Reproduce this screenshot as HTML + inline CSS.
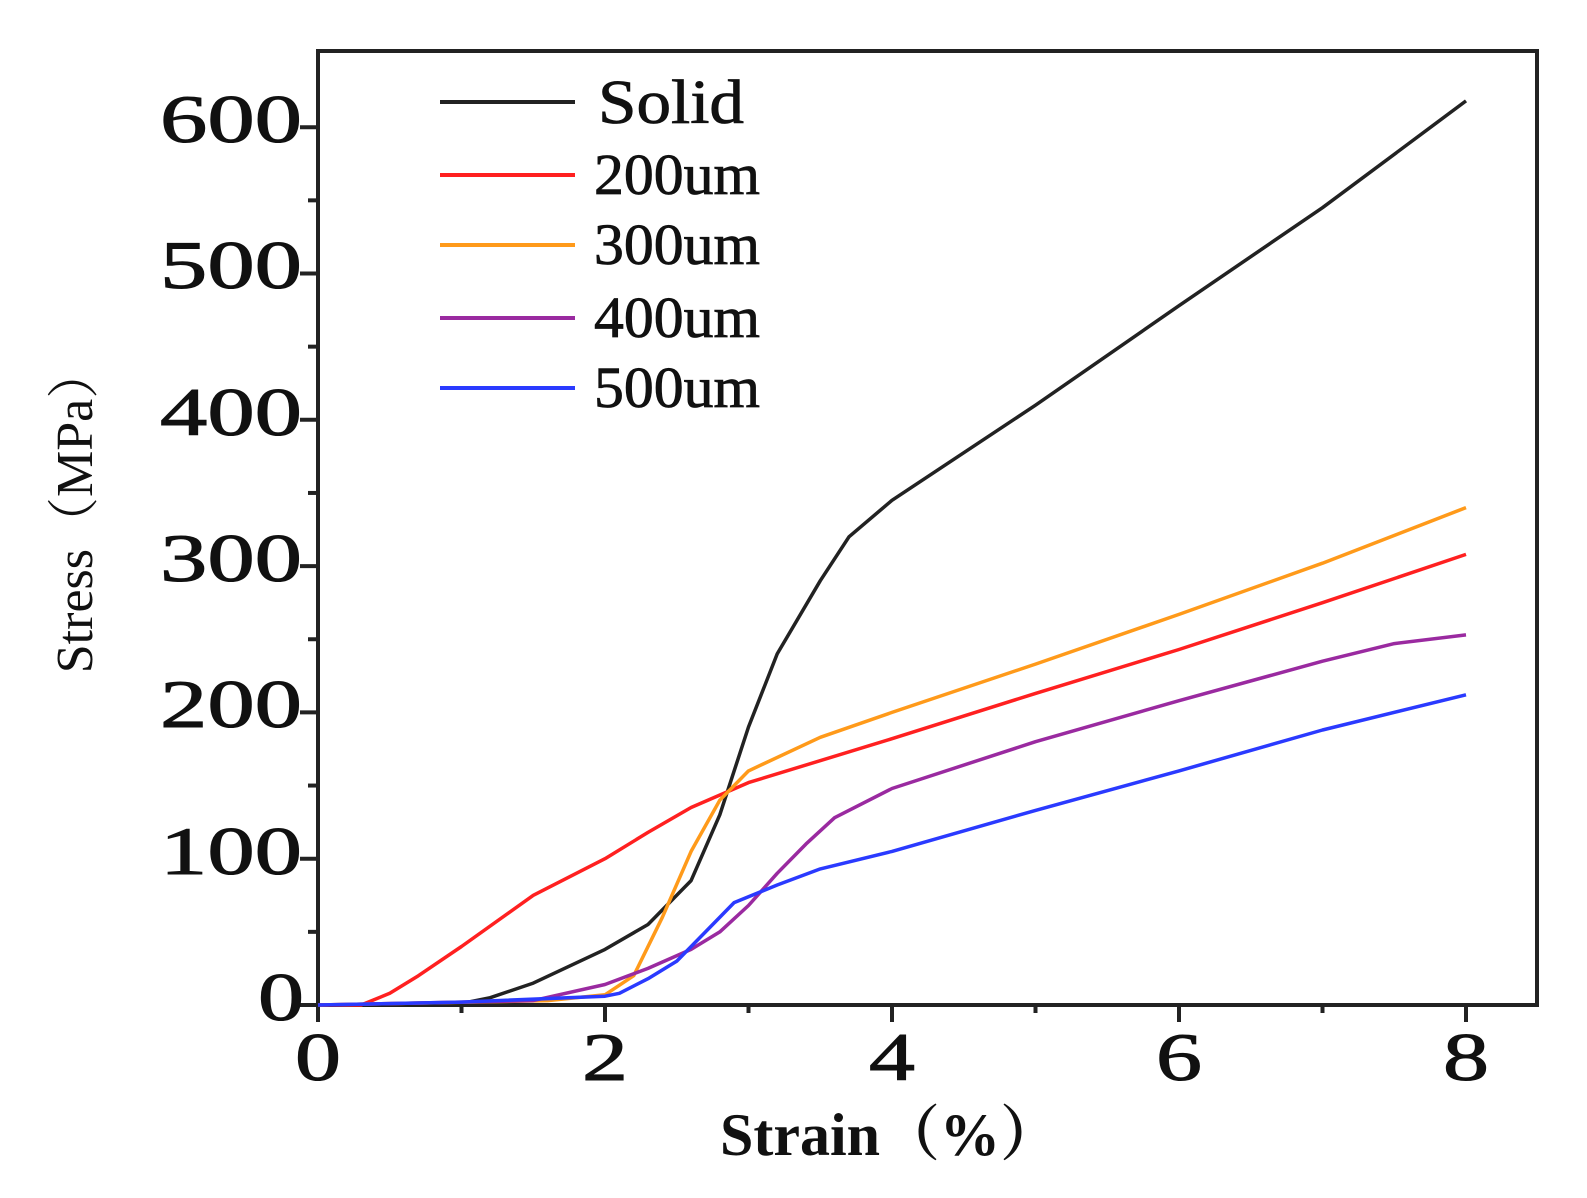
<!DOCTYPE html>
<html><head><meta charset="utf-8"><style>
body{margin:0;background:#fff}
svg{display:block}
text{font-family:"Liberation Serif","Noto Serif CJK SC",serif;fill:#111}
</style></head><body>
<svg id="s" width="1587" height="1198" viewBox="0 0 1587 1198">
<rect x="318" y="51" width="1219" height="954" fill="none" stroke="#222" stroke-width="4"/>
<g id="ticks" stroke="#222" stroke-width="4"></g>
<g font-size="68" stroke="#111" stroke-width="1">
<text x="258" y="1020" textLength="46" lengthAdjust="spacingAndGlyphs">0</text>
<text x="160" y="874" textLength="142" lengthAdjust="spacingAndGlyphs">100</text>
<text x="160" y="727" textLength="142" lengthAdjust="spacingAndGlyphs">200</text>
<text x="160" y="581" textLength="142" lengthAdjust="spacingAndGlyphs">300</text>
<text x="160" y="435" textLength="142" lengthAdjust="spacingAndGlyphs">400</text>
<text x="160" y="288" textLength="142" lengthAdjust="spacingAndGlyphs">500</text>
<text x="160" y="142" textLength="142" lengthAdjust="spacingAndGlyphs">600</text>
</g>
<g font-size="68" stroke="#111" stroke-width="1">
<text x="295" y="1080" textLength="46" lengthAdjust="spacingAndGlyphs">0</text>
<text x="582" y="1080" textLength="46" lengthAdjust="spacingAndGlyphs">2</text>
<text x="869" y="1080" textLength="46" lengthAdjust="spacingAndGlyphs">4</text>
<text x="1156" y="1080" textLength="46" lengthAdjust="spacingAndGlyphs">6</text>
<text x="1443" y="1080" textLength="46" lengthAdjust="spacingAndGlyphs">8</text>
</g>
<text x="890" y="1155" font-size="60" font-weight="bold" text-anchor="middle">Strain（%）</text>
<text transform="translate(92,510) rotate(-90)" font-size="52" text-anchor="middle">Stress（MPa）</text>
<g stroke-width="4">
<line x1="440" y1="102" x2="575" y2="102" stroke="#222"/>
<line x1="440" y1="175" x2="575" y2="175" stroke="#ff2020"/>
<line x1="440" y1="245" x2="575" y2="245" stroke="#ff9a1a"/>
<line x1="440" y1="318" x2="575" y2="318" stroke="#9a2aa0"/>
<line x1="440" y1="388" x2="575" y2="388" stroke="#2a3aff"/>
</g>
<g font-size="58" stroke="#111" stroke-width="0.8">
<text x="598" y="123" font-size="62" textLength="146" lengthAdjust="spacingAndGlyphs">Solid</text>
<text x="594" y="194" textLength="166" lengthAdjust="spacingAndGlyphs">200um</text>
<text x="594" y="264" textLength="166" lengthAdjust="spacingAndGlyphs">300um</text>
<text x="594" y="337" textLength="166" lengthAdjust="spacingAndGlyphs">400um</text>
<text x="594" y="407" textLength="166" lengthAdjust="spacingAndGlyphs">500um</text>
</g>
<g id="curves" fill="none" stroke-width="3.5" stroke-linejoin="round"></g>
</svg>
<script>
var X=function(s){return 318+143.5*s},Y=function(v){return 1005-1.463*v};
var t=document.getElementById('ticks'),h='';
for(var v=0;v<=600;v+=50){var y=Y(v);h+='<line x1="'+(v%100?308:300)+'" y1="'+y+'" x2="318" y2="'+y+'"/>';}
for(var s=0;s<=8;s+=1){var x=X(s);h+='<line x1="'+x+'" y1="1005" x2="'+x+'" y2="'+(s%2?1013:1022)+'"/>';}
t.innerHTML=h;
var D={
'#222':[[0,0],[1,1],[1.2,5],[1.5,15],[2,38],[2.3,55],[2.6,85],[2.8,130],[3,190],[3.2,240],[3.5,290],[3.7,320],[4,345],[5,410],[6,478],[7,545],[8,618]],
'#ff2020':[[0,0],[0.3,0],[0.5,8],[0.7,20],[1,40],[1.5,75],[2,100],[2.3,118],[2.6,135],[3,152],[4,182],[5,213],[6,243],[7,275],[8,308]],
'#ff9a1a':[[0,0],[1.6,3],[2,7],[2.2,20],[2.4,60],[2.6,105],[2.8,140],[3,160],[3.5,183],[4,200],[5,233],[6,267],[7,302],[8,340]],
'#9a2aa0':[[0,0],[1.5,3],[2,14],[2.3,25],[2.6,38],[2.8,50],[3,68],[3.2,90],[3.4,110],[3.6,128],[4,148],[5,180],[6,208],[7,235],[7.5,247],[8,253]],
'#2a3aff':[[0,0],[1,2],[2,6],[2.1,8],[2.3,18],[2.5,30],[2.7,50],[2.9,70],[3.2,82],[3.5,93],[4,105],[5,133],[6,160],[7,188],[8,212]]};
var c='';for(var k in D){c+='<polyline stroke="'+k+'" points="'+D[k].map(function(p){return X(p[0]).toFixed(1)+','+Y(p[1]).toFixed(1)}).join(' ')+'"/>';}
document.getElementById('curves').innerHTML=c;
</script>
</body></html>
